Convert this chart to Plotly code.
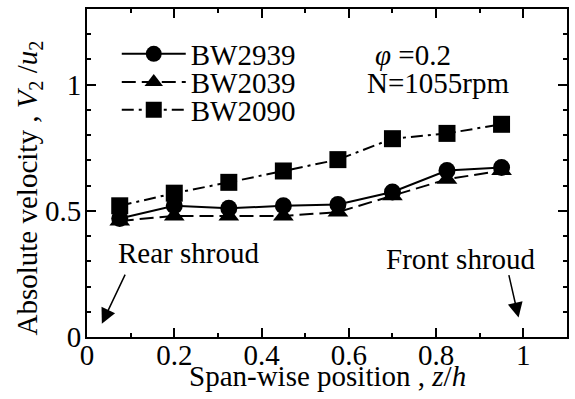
import plotly.graph_objects as go

z_pos = [0.075, 0.2, 0.325, 0.45, 0.575, 0.7, 0.825, 0.95]
bw2939 = [0.47, 0.52, 0.51, 0.52, 0.525, 0.575, 0.66, 0.672]
bw2039 = [0.46, 0.48, 0.48, 0.48, 0.495, 0.56, 0.625, 0.66]
bw2090 = [0.52, 0.57, 0.613, 0.658, 0.703, 0.786, 0.807, 0.843]

FONT = "Liberation Serif"
FS = 29

fig = go.Figure()
fig.add_trace(go.Scatter(x=z_pos, y=bw2939, name="BW2939", mode="lines+markers",
                         line=dict(color="black", width=2),
                         marker=dict(symbol="circle", size=17, color="black"),
                         legend="legend"))
fig.add_trace(go.Scatter(x=z_pos, y=bw2039, name="BW2039", mode="lines+markers",
                         line=dict(color="black", width=2, dash="14px,6px"),
                         marker=dict(symbol="triangle-up", size=18, color="black"),
                         legend="legend2"))
fig.add_trace(go.Scatter(x=z_pos, y=bw2090, name="BW2090", mode="lines+markers",
                         line=dict(color="black", width=2, dash="12px,5px,3px,5px"),
                         marker=dict(symbol="square", size=17, color="black"),
                         legend="legend3"))

axis_common = dict(showgrid=False, zeroline=False, showline=True, linecolor="black",
                   linewidth=2, mirror="ticks", ticks="inside", ticklen=9, tickwidth=1.5,
                   tickcolor="black", automargin=False,
                   tickfont=dict(family=FONT, size=FS, color="black"))

fig.update_xaxes(range=[0, 1.1], tickvals=[0, 0.2, 0.4, 0.6, 0.8, 1],
                 ticktext=["0", "0.2", "0.4", "0.6", "0.8", "1"],
                 ticklabelstandoff=-9,
                 minor=dict(dtick=0.1, ticks="inside", ticklen=4, tickcolor="black", tickwidth=1.5),
                 **axis_common)
fig.update_yaxes(range=[0, 1.3], tickvals=[0, 0.5, 1], ticktext=["0", "0.5", "1"],
                 ticklabelstandoff=-2,
                 minor=dict(dtick=0.1, ticks="inside", ticklen=4, tickcolor="black", tickwidth=1.5),
                 **axis_common)

annots = [
    dict(x=0.656, y=1.119, text="<i>φ</i> =0.2", xanchor="left", yanchor="middle", showarrow=False),
    dict(x=0.638, y=1.008, text="N=1055rpm", xanchor="left", yanchor="middle", showarrow=False),
    dict(x=0.233, y=0.331, text="Rear shroud", xanchor="center", yanchor="middle", showarrow=False),
    dict(x=0.856, y=0.311, text="Front shroud", xanchor="center", yanchor="middle", showarrow=False),
    dict(x=0.034, y=0.053, ax=0.089, ay=0.253, axref="x", ayref="y", text="", showarrow=True,
         arrowhead=2, arrowsize=2, arrowwidth=1.5, arrowcolor="black"),
    dict(x=0.989, y=0.077, ax=0.966, ay=0.251, axref="x", ayref="y", text="", showarrow=True,
         arrowhead=2, arrowsize=2, arrowwidth=1.5, arrowcolor="black"),
    # axis titles
    dict(xref="paper", yref="paper", x=0.5, y=-0.12, xanchor="center", yanchor="middle",
         text="Span-wise position , <i>z</i>/<i>h</i>", showarrow=False),
    dict(xref="paper", yref="paper", x=-0.12, y=0.454, xanchor="center", yanchor="middle",
         textangle=-90, showarrow=False,
         text="Absolute velocity , <i>V</i><sub>2</sub> /<i>u</i><sub>2</sub>"),
]
for a in annots:
    a.setdefault("font", dict(family=FONT, size=FS, color="black"))
    fig.add_annotation(**a)

leg_common = dict(x=0.062, xanchor="left", yanchor="middle", bgcolor="rgba(0,0,0,0)",
                  itemwidth=64, font=dict(family=FONT, size=FS, color="black"))
fig.update_layout(
    width=575, height=399,
    margin=dict(l=87, r=8, t=9, b=62),
    paper_bgcolor="white", plot_bgcolor="white",
    font=dict(family=FONT, color="black"),
    legend=dict(y=0.863, **leg_common),
    legend2=dict(y=0.777, **leg_common),
    legend3=dict(y=0.692, **leg_common),
    showlegend=True,
)

fig.write_html("out.html", config={"displayModeBar": False},
               post_script="document.body.style.margin='0';document.body.style.overflow='hidden';")
